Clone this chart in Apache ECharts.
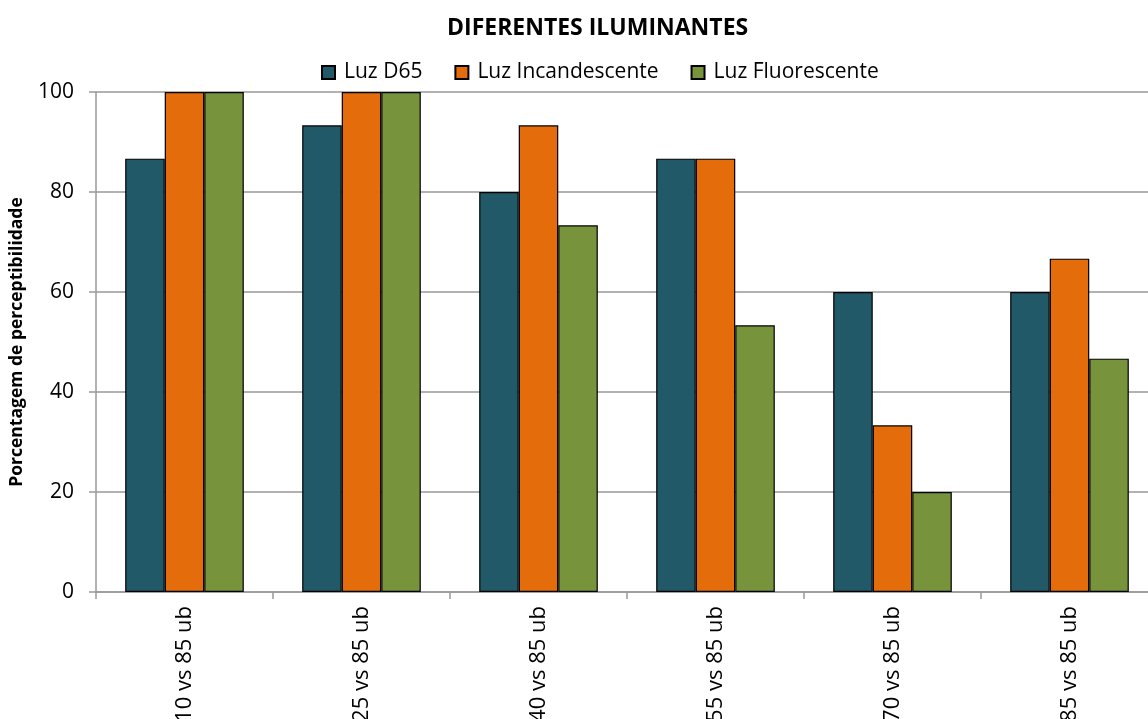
<!DOCTYPE html>
<html><head><meta charset="utf-8">
<script src="https://cdn.jsdelivr.net/npm/echarts@6/dist/echarts.min.js"></script>
<style>html,body{margin:0;padding:0;background:#fff}#c{width:1148px;height:719px}</style>
</head><body><div id="c"></div>
<script>
const categories = ['10 vs 85 ub','25 vs 85 ub','40 vs 85 ub','55 vs 85 ub','70 vs 85 ub','85 vs 85 ub'];
const seriesNames = ['Luz D65','Luz Incandescente','Luz Fluorescente'];
const d65 = [86.67, 93.33, 80, 86.67, 60, 60];
const incandescente = [100, 100, 93.33, 86.67, 33.33, 66.67];
const fluorescente = [100, 100, 73.33, 53.33, 20, 46.67];
const yTicks = [0, 20, 40, 60, 80, 100];

const FONT = 'Open Sans';
const colors = ['#215968','#E46C0A','#77933C'];
const values = [d65, incandescente, fluorescente];
const chart = echarts.init(document.getElementById('c'));
chart.setOption({
  animation: false,
  textStyle: {fontFamily: FONT},
  title: {text: 'DIFERENTES ILUMINANTES', left: 442, top: 12,
    textStyle: {fontFamily: FONT, fontWeight: 'bold', fontSize: 23, color: '#000'}},
  legend: {top: 57, left: 316, itemWidth: 13, itemHeight: 13, itemGap: 32, icon: 'rect',
    textStyle: {fontFamily: FONT, fontSize: 21, color: '#000', padding: [0, 0, 0, 4]},
    data: seriesNames},
  grid: {left: 96, width: 1062, top: 92, height: 500, containLabel: false, outerBoundsMode: 'none'},
  xAxis: {type: 'category', data: categories,
    axisLine: {lineStyle: {color: '#999', width: 1.5}},
    axisTick: {show: true, alignWithLabel: false, length: 7, lineStyle: {color: '#999', width: 1.5}},
    axisLabel: {rotate: 90, margin: 14, fontSize: 22, color: '#000', fontFamily: FONT, interval: 0}},
  yAxis: {type: 'value', min: yTicks[0], max: yTicks[yTicks.length-1], interval: 20,
    name: 'Porcentagem de perceptibilidade', nameLocation: 'middle', nameGap: 70, nameRotate: 90,
    nameTextStyle: {fontFamily: FONT, fontWeight: 'bold', fontSize: 17.5, color: '#000'},
    axisLine: {show: true, lineStyle: {color: '#999', width: 1.5}},
    axisTick: {show: true, length: 7, lineStyle: {color: '#999', width: 1.5}},
    axisLabel: {fontSize: 21, color: '#000', margin: 22, fontFamily: FONT},
    splitLine: {lineStyle: {color: '#999', width: 1.5}}},
  series: seriesNames.map((n, i) => ({
    name: n, type: 'bar', data: values[i], barGap: '0%', barCategoryGap: '33%',
    itemStyle: {color: colors[i], borderColor: '#000', borderWidth: 1.2}
  }))
});
</script></body></html>
